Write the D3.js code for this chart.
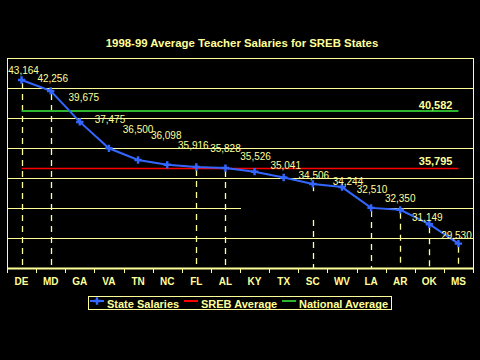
<!DOCTYPE html>
<html><head><meta charset="utf-8">
<script src="https://cdn.jsdelivr.net/npm/d3@7"></script>
<style>
html,body{margin:0;padding:0;background:#000;}
svg{display:block;}
text{font-family:"Liberation Sans",Arial,sans-serif;}
</style></head>
<body>
<svg id="chart" width="480" height="360"></svg>
<script>
// ---- data ----
const states = ["DE","MD","GA","VA","TN","NC","FL","AL","KY","TX","SC","WV","LA","AR","OK","MS"];
const salaries = [43164,42256,39675,37475,36500,36098,35916,35828,35526,35041,34506,34244,32510,32350,31149,29530];
const srebAverage = 35795;
const nationalAverage = 40582;
const dropLineStates = ["DE","MD","FL","AL","SC","LA","AR","OK","MS"];
const yTicks = [27500,30000,32500,35000,37500,40000,42500,45000];
const seriesNames = ["State Salaries","SREB Average","National Average"];
const title = "1998-99 Average Teacher Salaries for SREB States";

// ---- layout / style ----
const labelDy = [10,12,24,29,31,29,22,20,15,12,8,6,18,11,7,8];
const labelDx = [2,2,4,1,0,-1,-3,0,1,2,1,6,1,0,-2,-2];
const yellow = "#FFFF99", blue = "#3366FF", red = "#FF0000", green = "#2DB52D";
const plot = {left:7, right:473, top:58, bottom:268};

const svg = d3.select("#chart");
svg.append("rect").attr("width",480).attr("height",360).attr("fill","#000");

const x = d3.scaleBand().domain(states).range([plot.left, plot.right]).padding(0);
const y = d3.scaleLinear().domain([27500,45000]).range([plot.bottom, plot.top]);
const cx = s => x(s) + x.bandwidth()/2;
const fmt = d3.format(",");

// title
svg.append("text").attr("x",242).attr("y",46.5).attr("text-anchor","middle")
  .attr("fill",yellow).attr("font-size",11.4).attr("font-weight","bold").text(title);

// gridlines
svg.append("g").selectAll("line").data(yTicks).join("line")
  .attr("x1",plot.left).attr("x2",plot.right)
  .attr("y1",d=>Math.round(y(d))+0.5).attr("y2",d=>Math.round(y(d))+0.5)
  .attr("stroke",yellow).attr("stroke-width",1);
// plot frame
svg.append("line").attr("x1",plot.left+0.5).attr("x2",plot.left+0.5).attr("y1",plot.top).attr("y2",plot.bottom)
  .attr("stroke",yellow);
svg.append("line").attr("x1",plot.right+0.5).attr("x2",plot.right+0.5).attr("y1",plot.top).attr("y2",plot.bottom)
  .attr("stroke",yellow);

// drop lines
const idx = s => states.indexOf(s);
svg.append("g").selectAll("line").data(dropLineStates).join("line")
  .attr("x1",d=>Math.round(cx(d))+0.5).attr("x2",d=>Math.round(cx(d))+0.5)
  .attr("y1",d=>y(salaries[idx(d)])+3).attr("y2",plot.bottom)
  .attr("stroke",yellow).attr("stroke-width",1.3).attr("stroke-dasharray","6,5");

// black patch hiding part of a gridline (as in the original)
svg.append("rect").attr("x",x("KY")+1).attr("y",y(33900))
  .attr("width",cx("LA")-x("KY")-1).attr("height",y(31550)-y(33900)).attr("fill","#000");

// bottom axis with tick marks
const xAxis = d3.axisBottom(x).tickSize(0).tickPadding(10);
const gx = svg.append("g").attr("transform",`translate(0,${plot.bottom})`).call(xAxis);
gx.select(".domain").attr("stroke",yellow).attr("stroke-width",2);
gx.selectAll("text").attr("fill",yellow).attr("font-size",10).attr("font-weight","bold")
  .attr("font-family","Liberation Sans, Arial, sans-serif");
const bounds = states.map(s=>x(s)).concat([plot.right]);
svg.append("g").selectAll("line").data(bounds).join("line")
  .attr("x1",d=>Math.round(d)+0.5).attr("x2",d=>Math.round(d)+0.5)
  .attr("y1",plot.bottom).attr("y2",plot.bottom+5).attr("stroke",yellow);

// average lines
svg.append("line").attr("x1",cx(states[0])).attr("x2",cx(states[states.length-1]))
  .attr("y1",y(nationalAverage)).attr("y2",y(nationalAverage))
  .attr("stroke",green).attr("stroke-width",2.2);
svg.append("line").attr("x1",cx(states[0])).attr("x2",cx(states[states.length-1]))
  .attr("y1",y(srebAverage)).attr("y2",y(srebAverage))
  .attr("stroke",red).attr("stroke-width",1.5);
svg.append("text").attr("x",cx(states[states.length-1])-6).attr("y",y(nationalAverage)-2)
  .attr("text-anchor","end").attr("fill",yellow).attr("font-size",11).attr("font-weight","bold")
  .text(fmt(nationalAverage));
svg.append("text").attr("x",cx(states[states.length-1])-6).attr("y",y(srebAverage)-3)
  .attr("text-anchor","end").attr("fill",yellow).attr("font-size",11).attr("font-weight","bold")
  .text(fmt(srebAverage));

// state series
const line = d3.line().x((d,i)=>cx(states[i])).y(d=>y(d));
svg.append("path").datum(salaries).attr("d",line).attr("fill","none")
  .attr("stroke",blue).attr("stroke-width",2);
const sym = d3.symbol().type(d3.symbolCross).size(30);
svg.append("g").selectAll("path").data(salaries).join("path")
  .attr("transform",(d,i)=>`translate(${cx(states[i])},${y(d)})`)
  .attr("d",sym).attr("fill",blue);

// data labels
svg.append("g").selectAll("text").data(salaries).join("text")
  .attr("x",(d,i)=>cx(states[i])+labelDx[i])
  .attr("y",(d,i)=>y(d)-labelDy[i]+3.5)
  .attr("text-anchor","middle").attr("fill",yellow).attr("font-size",10)
  .text(d=>fmt(d));

// legend
const lg = svg.append("g");
lg.append("rect").attr("x",88.5).attr("y",296.5).attr("width",303).attr("height",13)
  .attr("fill","#000").attr("stroke",yellow);
const legendItems = [
  {name:seriesNames[0], color:blue, x0:90, tx:107, marker:true},
  {name:seriesNames[1], color:red, x0:184, tx:201},
  {name:seriesNames[2], color:green, x0:282, tx:299}
];
legendItems.forEach(it=>{
  lg.append("line").attr("x1",it.x0).attr("x2",it.x0+14).attr("y1",301).attr("y2",301)
    .attr("stroke",it.color).attr("stroke-width",2);
  if(it.marker) lg.append("path").attr("transform",`translate(${it.x0+7},301)`).attr("d",sym).attr("fill",it.color);
  lg.append("text").attr("x",it.tx).attr("y",307.5).attr("fill",yellow)
    .attr("font-size",11).attr("font-weight","bold").text(it.name);
});
</script>
</body></html>
